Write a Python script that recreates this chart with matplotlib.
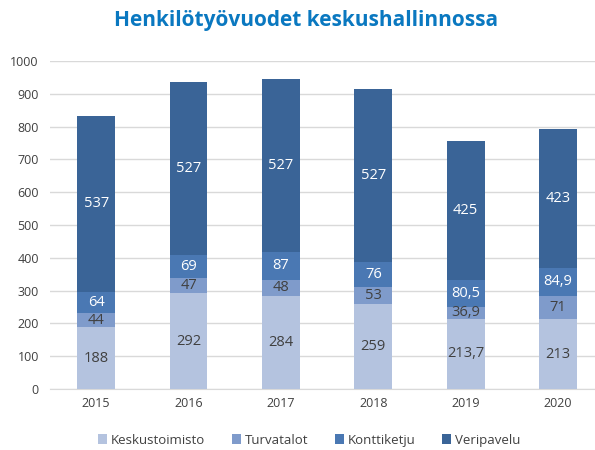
import numpy as np
import matplotlib.pyplot as plt

years = ["2015", "2016", "2017", "2018", "2019", "2020"]
keskustoimisto = [188, 292, 284, 259, 213.7, 213]
turvatalot = [44, 47, 48, 53, 36.9, 71]
konttiketju = [64, 69, 87, 76, 80.5, 84.9]
veripavelu = [537, 527, 527, 527, 425, 423]
series_names = ["Keskustoimisto", "Turvatalot", "Konttiketju", "Veripavelu"]
colors = ["#b4c3df", "#7f9bcb", "#4a78b3", "#3a6497"]
text_colors = ["#404040", "#404040", "white", "white"]

def fmt(v):
    s = f"{v:g}"
    return s.replace(".", ",")

plt.rcParams['font.family'] = ['Open Sans', 'DejaVu Sans']
fig = plt.figure(figsize=(5.95, 4.5), dpi=100)
ax = fig.add_axes([50/595, 61/450, 545/595, 328/450])

x = np.arange(len(years))
bottom = np.zeros(len(years))
for name, vals, c, tc in zip(series_names, [keskustoimisto, turvatalot, konttiketju, veripavelu], colors, text_colors):
    vals = np.array(vals)
    ax.bar(x, vals, 0.41, bottom=bottom, color=c, label=name, zorder=3)
    for xi, b, v in zip(x, bottom, vals):
        ax.text(xi, b + v / 2, fmt(v), ha="center", va="center", color=tc, fontsize=10.5, zorder=4)
    bottom += vals

ax.set_xlim(-0.5, 5.4)
ax.set_ylim(0, 1000)
ax.set_yticks(range(0, 1001, 100))
ax.set_xticks(x)
ax.set_xticklabels(years)
ax.grid(axis="y", color="#d9d9d9", linewidth=1, zorder=0)
for s in ["top", "right", "left"]:
    ax.spines[s].set_visible(False)
ax.spines["bottom"].set_color("#d9d9d9")
ax.tick_params(length=0, labelsize=9, colors="#404040", pad=6)
ax.tick_params(axis="y", pad=8)

fig.text(0.515, 0.955, "Henkilötyövuodet keskushallinnossa", ha="center", va="center",
         fontsize=15, fontweight="bold", color="#0a78c0")
fig.legend(loc="center", bbox_to_anchor=(0.52, 0.022), ncol=4, frameon=False,
           fontsize=9.5, handlelength=0.7, handleheight=0.7, handletextpad=0.3,
           columnspacing=2.0, labelcolor="#404040")

fig.savefig("out.png")
